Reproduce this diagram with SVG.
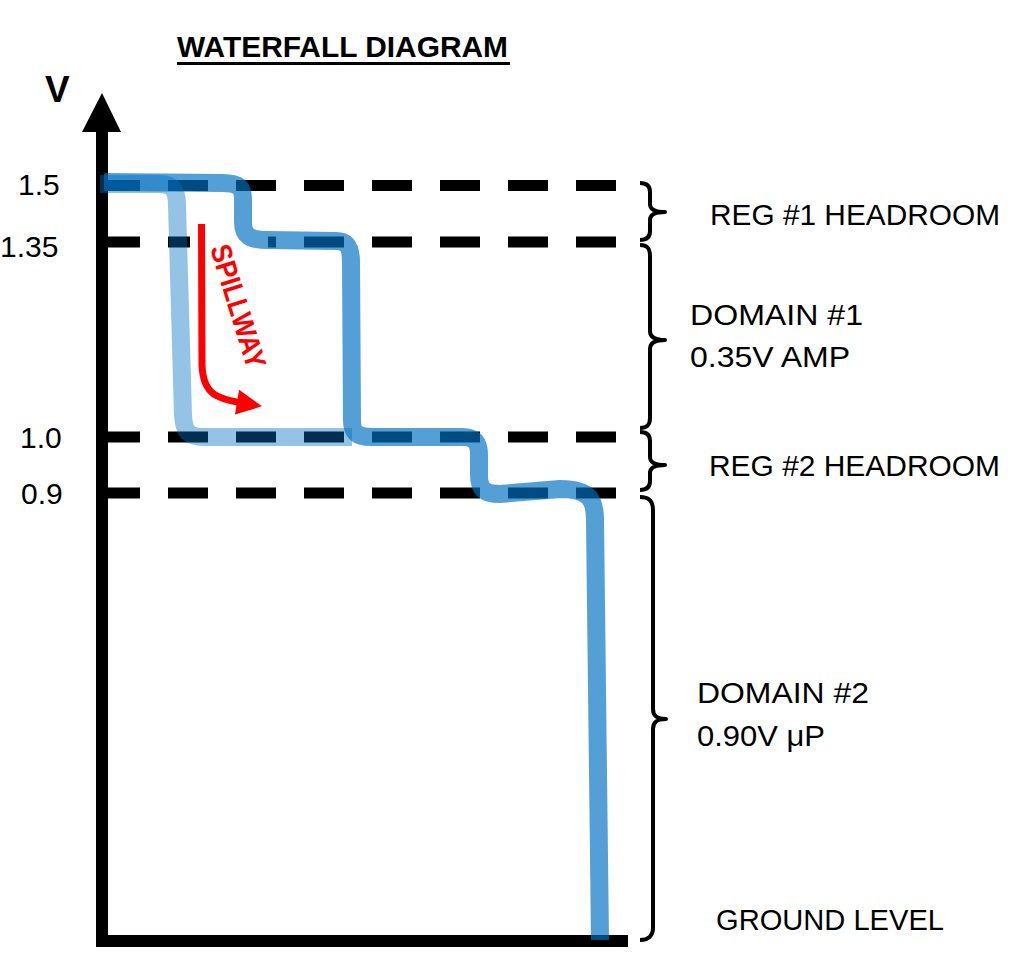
<svg xmlns="http://www.w3.org/2000/svg" width="1016" height="966" viewBox="0 0 1016 966">
<style>
  .lbl { font-family: "Liberation Sans", Arial, sans-serif; font-size: 30px; fill: #000; }
  .dash { stroke: #000; stroke-width: 11; stroke-dasharray: 40 28; fill: none; }
  .brace { stroke: #000; stroke-width: 4; fill: none; stroke-linejoin: round; }
  .axis { stroke: #000; stroke-width: 12; fill: none; }
  .flow { stroke: #0070C0; stroke-width: 18; fill: none; stroke-linejoin: round; }
</style>
<defs>
  <marker id="redhead" viewBox="0 0 10 10" refX="2" refY="5" markerWidth="4" markerHeight="3.6" orient="auto" markerUnits="strokeWidth">
    <path d="M0,0 L10,5 L0,10 Z" fill="#FF0000"/>
  </marker>
</defs>
<rect width="1016" height="966" fill="#fff"/>

<g id="title">
  <text x="177" y="57" font-family="Liberation Sans, Arial, sans-serif" font-weight="bold" font-size="30" textLength="331" lengthAdjust="spacingAndGlyphs">WATERFALL DIAGRAM</text>
  <line x1="177" y1="63.5" x2="510" y2="63.5" stroke="#000" stroke-width="3"/>
</g>

<g id="levels">
  <path class="dash" d="M100,185.5 H616"/>
  <path class="dash" d="M100,242 H190"/>
  <path class="dash" d="M304,242 H616"/>
  <line x1="268" y1="242" x2="276" y2="242" stroke="#000" stroke-width="11"/>
  <path class="dash" d="M100,437 H616"/>
  <path class="dash" d="M100,493 H616"/>
</g>

<g id="axes">
  <line class="axis" x1="102" y1="130" x2="102" y2="947"/>
  <line class="axis" x1="96" y1="941" x2="628" y2="941"/>
  <polygon points="102,93 82,132 121,132" fill="#000"/>
  <text x="45" y="102" font-family="Liberation Sans, Arial, sans-serif" font-weight="bold" font-size="37">V</text>
</g>

<g id="ticks">
  <text class="lbl" x="18" y="195">1.5</text>
  <text class="lbl" x="0" y="257">1.35</text>
  <text class="lbl" x="20" y="448">1.0</text>
  <text class="lbl" x="21" y="504">0.9</text>
</g>

<g id="spillway">
  <path d="M201.5,224 L202,365 C203,395 218,399 242,403" stroke="#FF0000" stroke-width="7" fill="none" marker-end="url(#redhead)"/>
  <text transform="translate(210,248) rotate(73)" font-family="Liberation Sans, Arial, sans-serif" font-weight="bold" font-size="29" fill="#FF0000" textLength="128" lengthAdjust="spacingAndGlyphs">SPILLWAY</text>
</g>

<g id="flows">
  <path id="flow-spill" class="flow" opacity="0.42" d="M100,184 L160,184 C172,184 177,190 177,205 L183,415 C184,432 188,437 205,437 L352,437"/>
  <path id="flow-main" class="flow" opacity="0.67" d="M104,182 L222,183 C240,183 243,188 243,200 L243,222 C243,236 250,240 268,240 L336,241 C348,241 351,248 351,262 L352,420 C352,432 356,437 372,437 L462,437 C475,437 479,442 479,455 L479,475 C479,490 485,494 500,494 L560,489 C590,489 595,500 595,520 L600,940"/>
</g>

<g id="brace-reg1">
  <path class="brace" d="M640,183 C647,183 650,186 650,192 L650,204 C650,209 655,212 665,212 C655,212 650,215 650,220 L650,231 C650,237 647,240 640,240"/>
  <text class="lbl" x="710" y="225" textLength="290" lengthAdjust="spacingAndGlyphs">REG #1 HEADROOM</text>
</g>

<g id="brace-domain1">
  <path class="brace" d="M640,245 C647,245 650,248 650,256 L650,331 C650,337 655,340 665,340 C655,340 650,343 650,349 L650,418 C650,425 647,428 640,428"/>
  <text class="lbl" x="690" y="325" textLength="173" lengthAdjust="spacingAndGlyphs">DOMAIN #1</text>
  <text class="lbl" x="690" y="367" textLength="160" lengthAdjust="spacingAndGlyphs">0.35V AMP</text>
</g>

<g id="brace-reg2">
  <path class="brace" d="M640,432 C647,432 650,435 650,441 L650,457 C650,462 655,465 665,465 C655,465 650,468 650,473 L650,481 C650,487 647,490 640,490"/>
  <text class="lbl" x="709" y="476" textLength="291" lengthAdjust="spacingAndGlyphs">REG #2 HEADROOM</text>
</g>

<g id="brace-domain2">
  <path class="brace" d="M640,497 C648,497 653,500 653,510 L653,709 C653,716 657,719 666,719 C657,719 653,722 653,729 L653,928 C653,936 648,940 640,940"/>
  <text class="lbl" x="697" y="703" textLength="172" lengthAdjust="spacingAndGlyphs">DOMAIN #2</text>
  <text class="lbl" x="697" y="746" textLength="128" lengthAdjust="spacingAndGlyphs">0.90V μP</text>
</g>

<g id="ground">
  <text class="lbl" x="716" y="930" textLength="228" lengthAdjust="spacingAndGlyphs">GROUND LEVEL</text>
</g>
</svg>
